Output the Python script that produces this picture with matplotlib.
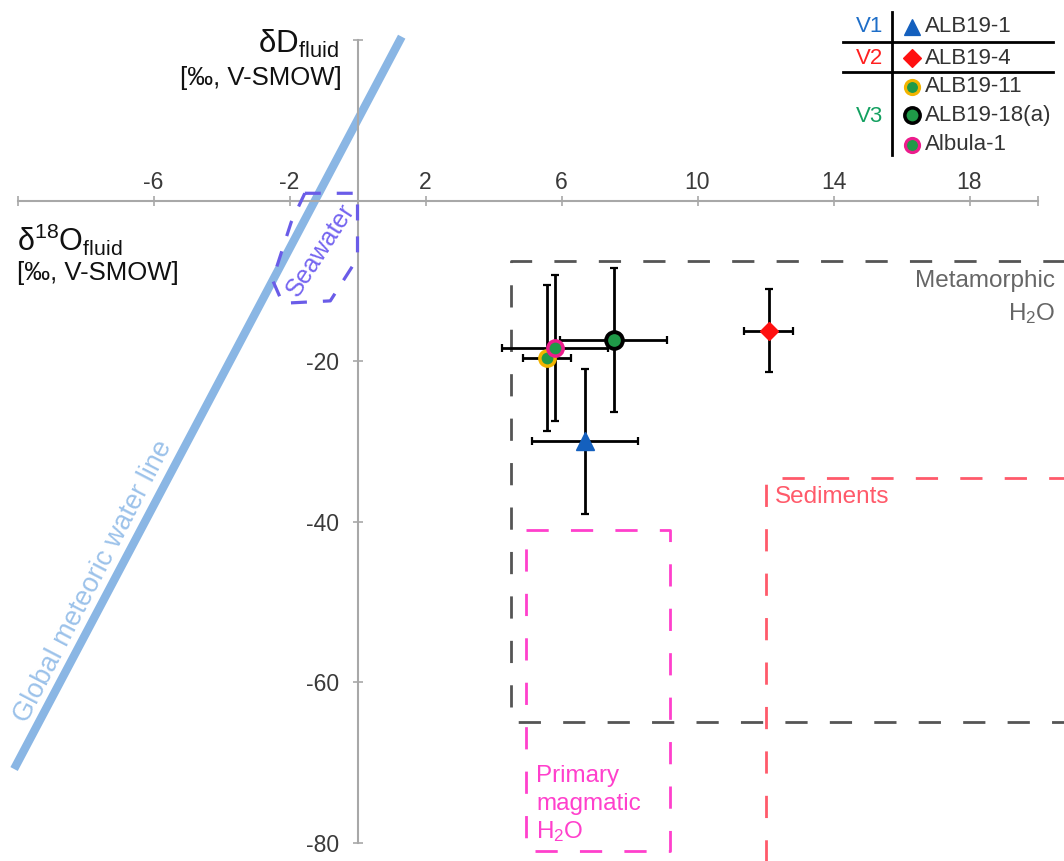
import matplotlib
matplotlib.use('Agg')
import matplotlib.pyplot as plt
from matplotlib.lines import Line2D

plt.rcParams['font.family'] = ['Liberation Sans', 'DejaVu Sans']
plt.rcParams['mathtext.fontset'] = 'custom'
plt.rcParams['mathtext.rm'] = 'Liberation Sans'
plt.rcParams['mathtext.it'] = 'Liberation Sans:italic'

W, H = 1064, 861

# sample data (δ18O fluid, δD fluid, with 1-sigma bars)
SAMPLES = ['ALB19-1', 'ALB19-4', 'ALB19-11', 'ALB19-18(a)', 'Albula-1']
D18O = [6.69, 12.10, 5.57, 7.54, 5.81]
D18O_ERR = [1.56, 0.72, 0.71, 1.57, 1.56]
DD = [-30.0, -16.2, -19.6, -17.4, -18.4]
DD_ERR = [9.0, 5.2, 9.1, 9.0, 9.1]
VEIN = ['V1', 'V2', 'V3', 'V3', 'V3']

# global meteoric water line end points
GMWL_X = [-10.1, 1.3]
GMWL_Y = [-70.8, 20.4]

# reference fields
META_X = [4.5, 21.5]
META_Y = [-65.0, -7.5]
SED_X = [12.0, 21.5]
SED_Y = [-83.0, -34.5]
MAG_X = [4.95, 9.2]
MAG_Y = [-81.0, -41.0]
SW_X = [-1.55, 0.0, 0.0, -0.8, -2.2, -2.5, -1.95, -1.55]
SW_Y = [0.9, 0.9, -7.2, -12.5, -12.8, -9.9, -2.7, 0.9]

XTICKS = [-10, -6, -2, 2, 6, 10, 14, 18, 20]
XTICKLABELS = ['', '-6', '-2', '2', '6', '10', '14', '18', '']
YTICKS = [-80, -60, -40, -20, 0, 20]
YTICKLABELS = ['-80', '-60', '-40', '-20', '', '']

STYLE = {
    'ALB19-1': dict(marker='^', mfc='#1460be', mec='#1460be', ms=13, mew=1),
    'ALB19-4': dict(marker='D', mfc='#ff1010', mec='#ff1010', ms=9.5, mew=1),
    'ALB19-11': dict(marker='o', mfc='#1f9a48', mec='#f2b400', ms=11, mew=2.5),
    'ALB19-18(a)': dict(marker='o', mfc='#1f9a48', mec='#000000', ms=12, mew=2.8),
    'Albula-1': dict(marker='o', mfc='#1f9a48', mec='#ec1c8c', ms=11, mew=2.5),
}
VCOLOR = {'V1': '#1e6ec8', 'V2': '#ff2020', 'V3': '#13a060'}


def fx(px):
    return px / W


def fy(py):
    return 1 - py / H


def dx(px):
    return (px - 357.5) / 34.0


def dy(py):
    return (200.5 - py) / 8.03


fig = plt.figure(figsize=(W / 100, H / 100), dpi=100)
ax = fig.add_axes([0, 0, 1, 1])
ax.set_xlim(dx(0), dx(W))
ax.set_ylim(dy(H), dy(0))

# axes through the origin
for s in ['bottom', 'right']:
    ax.spines[s].set_visible(False)
ax.spines['top'].set_position(('data', 0))
ax.spines['left'].set_position(('data', 0))
ax.spines['top'].set_bounds(-10, 20)
ax.spines['left'].set_bounds(-80, 20)
for s in ['top', 'left']:
    ax.spines[s].set_color('#a8a8a8')
    ax.spines[s].set_linewidth(1.5)
ax.xaxis.tick_top()
ax.set_xticks(XTICKS)
ax.set_xticklabels(XTICKLABELS)
ax.set_yticks(YTICKS)
ax.set_yticklabels(YTICKLABELS)
ax.tick_params(axis='both', direction='inout', length=7, width=1.2,
               color='#a8a8a8', labelcolor='#3a3a3a', labelsize=16.5)
ax.tick_params(axis='x', pad=1)
ax.tick_params(axis='y', pad=10)
ax.patch.set_alpha(0)

# reference fields
dash = dict(lw=2, dashes=(8, 8))
ax.plot([META_X[1], META_X[0], META_X[0], META_X[1]],
        [META_Y[1], META_Y[1], META_Y[0], META_Y[0]],
        color='#555555', zorder=2, **dash)
ax.plot([SED_X[0], SED_X[0], SED_X[1]], [SED_Y[0], SED_Y[1], SED_Y[1]],
        color='#ff5a6a', zorder=2, **dash)
ax.plot([MAG_X[0], MAG_X[1], MAG_X[1], MAG_X[0], MAG_X[0]],
        [MAG_Y[1], MAG_Y[1], MAG_Y[0], MAG_Y[0], MAG_Y[1]],
        color='#ff40cc', zorder=2, **dash)
ax.plot(SW_X, SW_Y, color='#6a5ce8', lw=2.3, dashes=(5, 5), zorder=3)

# GMWL
ax.plot(GMWL_X, GMWL_Y, color='#8ab6e4', lw=6, solid_capstyle='butt', zorder=2)

# labels of fields
ax.text(dx(93), dy(582), 'Global meteoric water line', color='#9cc2ea',
        fontsize=19.5, rotation=62.5, ha='center', va='center')
ax.text(dx(321), dy(250), 'Seawater', color='#7565f0', fontsize=18,
        rotation=57, ha='center', va='center')
ax.text(dx(1055), dy(287), 'Metamorphic', color='#666666', fontsize=17.5,
        ha='right', va='baseline')
ax.text(dx(1055), dy(320), 'H$_2$O', color='#666666', fontsize=17.5,
        ha='right', va='baseline')
ax.text(dx(775), dy(503), 'Sediments', color='#ff5a6a', fontsize=17.5,
        ha='left', va='baseline')
for txt, py in zip(['Primary', 'magmatic', 'H$_2$O'], [782, 810, 838]):
    ax.text(dx(536), dy(py), txt, color='#ff40cc', fontsize=17.5,
            ha='left', va='baseline')

# samples
for i in range(len(SAMPLES)):
    ax.errorbar(D18O[i], DD[i], xerr=D18O_ERR[i], yerr=DD_ERR[i], fmt='none',
                ecolor='k', elinewidth=2, capsize=3, capthick=1.6, zorder=4)
for name in ['ALB19-1', 'ALB19-4', 'ALB19-18(a)', 'ALB19-11', 'Albula-1']:
    i = SAMPLES.index(name)
    ax.plot(D18O[i], DD[i], ls='none', zorder=5, **STYLE[name])

# axis titles
fig.text(fx(339), fy(53), 'δD$_\\mathregular{fluid}$', fontsize=22.5,
         ha='right', va='baseline', color='#111111')
fig.text(fx(342), fy(85), '[‰, V-SMOW]', fontsize=18.5,
         ha='right', va='baseline', color='#111111')
fig.text(fx(17), fy(251), 'δ$^\\mathregular{18}$O$_\\mathregular{fluid}$',
         fontsize=22, ha='left', va='baseline', color='#111111')
fig.text(fx(17), fy(280), '[‰, V-SMOW]', fontsize=18.5,
         ha='left', va='baseline', color='#111111')

# legend table
rows = [27, 58, 87, 115, 145]
for name, py in zip(SAMPLES, rows):
    st = dict(STYLE[name])
    st['ms'] = st['ms'] * 0.92
    st['mew'] = st['mew'] * 0.9
    fig.add_artist(Line2D([fx(912)], [fy(py)], ls='none', **st))
    fig.text(fx(925), fy(py), name, fontsize=16, ha='left', va='center',
             color='#333333')
for v, py in [('V1', 27), ('V2', 58), ('V3', 117)]:
    fig.text(fx(883), fy(py), v, fontsize=16, ha='right', va='center',
             color=VCOLOR[v])
fig.add_artist(Line2D([fx(892), fx(892)], [fy(12), fy(155)], color='k', lw=2))
for py in [42, 72]:
    fig.add_artist(Line2D([fx(843), fx(1053)], [fy(py), fy(py)], color='k', lw=2))

plt.savefig('out.png', dpi=100)
